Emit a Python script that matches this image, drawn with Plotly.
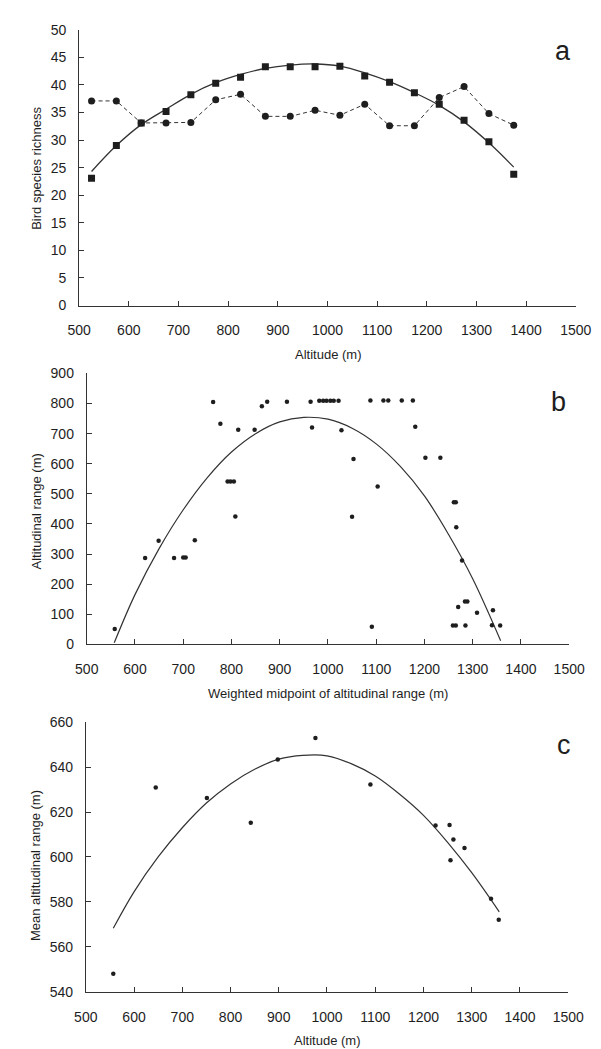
import plotly.graph_objects as go

W, H = 601, 1049

# ---- Panel a data ----
a_x = [525, 575, 625, 675, 725, 775, 825, 875, 925, 975, 1025, 1075, 1125, 1175, 1225, 1275, 1325, 1375]
a_sq = [23.1, 29.0, 33.1, 35.2, 38.2, 40.3, 41.4, 43.3, 43.3, 43.3, 43.4, 41.6, 40.5, 38.6, 36.5, 33.6, 29.7, 23.8]
a_ci = [37.1, 37.1, 33.1, 33.1, 33.2, 37.3, 38.3, 34.3, 34.3, 35.4, 34.5, 36.5, 32.6, 32.6, 37.7, 39.7, 34.8, 32.7]
a_fit_x = [525, 575, 625, 675, 725, 775, 825, 875, 925, 975, 1025, 1075, 1125, 1175, 1225, 1275, 1325, 1375]
a_fit_y = [24.3, 29.0, 32.8, 35.6, 38.3, 40.4, 41.9, 43.0, 43.6, 43.8, 43.4, 42.2, 40.6, 38.6, 36.3, 33.3, 29.5, 25.1]

# ---- Panel b data ----
b_x = [558, 621, 649, 681, 700, 705, 724, 762, 777, 792, 798, 805, 808, 814, 848, 863, 874, 915,
       964, 967, 982, 990, 997, 1005, 1012, 1022, 1028, 1050, 1053, 1088, 1091, 1103, 1115, 1125,
       1153, 1176, 1181, 1202, 1233, 1261, 1265, 1266, 1270, 1278, 1259, 1265, 1285, 1284, 1289,
       1309, 1342, 1340, 1357]
b_y = [51, 287, 344, 287, 288, 288, 346, 805, 733, 541, 541, 541, 425, 713, 713, 791, 806, 806,
       806, 720, 809, 809, 809, 809, 809, 809, 711, 424, 616, 810, 58, 524, 810, 810,
       810, 810, 723, 620, 620, 472, 472, 389, 124, 278, 62, 62, 62, 142, 142,
       105, 113, 63, 62]
b_fit_x = [557, 600, 650, 700, 750, 800, 850, 900, 950, 1000, 1050, 1100, 1150, 1200, 1250, 1300, 1358]
b_fit_y = [5, 165, 318, 447, 554, 639, 700, 739, 754, 748, 718, 666, 591, 493, 365, 218, 12]

# ---- Panel c data ----
c_x = [557, 645, 751, 842, 898, 976, 1090, 1225, 1254, 1262, 1256, 1285, 1340, 1356]
c_y = [548.1, 630.9, 626.2, 615.2, 643.3, 652.9, 632.2, 614.0, 614.2, 607.8, 598.5, 604.0, 581.4, 572.1]
c_fit_x = [557, 600, 650, 700, 750, 800, 850, 900, 950, 1000, 1050, 1100, 1150, 1200, 1250, 1300, 1357]
c_fit_y = [568.3, 584.5, 600, 613, 624, 632.5, 639, 643.5, 645.2, 645, 641.5, 636, 628, 618.5, 606.5, 593, 575.6]

x_ticks = [500, 600, 700, 800, 900, 1000, 1100, 1200, 1300, 1400, 1500]

INK = "#1e1e1e"
FONT = "Liberation Sans, Arial, sans-serif"

fig = go.Figure()

# panel a
fig.add_trace(go.Scatter(x=a_fit_x, y=a_fit_y, mode="lines", line=dict(color="#333", width=1.3, shape="spline"),
                         xaxis="x", yaxis="y", showlegend=False, hoverinfo="skip"))
fig.add_trace(go.Scatter(x=a_x, y=a_ci, mode="lines+markers",
                         line=dict(color="#333", width=1, dash="4px,3px"),
                         marker=dict(symbol="circle", size=7, color=INK),
                         xaxis="x", yaxis="y", showlegend=False))
fig.add_trace(go.Scatter(x=a_x, y=a_sq, mode="markers",
                         marker=dict(symbol="square", size=7, color=INK),
                         xaxis="x", yaxis="y", showlegend=False))
# panel b
fig.add_trace(go.Scatter(x=b_fit_x, y=b_fit_y, mode="lines", line=dict(color="#333", width=1.2, shape="spline"),
                         xaxis="x2", yaxis="y2", showlegend=False, hoverinfo="skip"))
fig.add_trace(go.Scatter(x=b_x, y=b_y, mode="markers", marker=dict(size=4.5, color=INK),
                         xaxis="x2", yaxis="y2", showlegend=False))
# panel c
fig.add_trace(go.Scatter(x=c_fit_x, y=c_fit_y, mode="lines", line=dict(color="#333", width=1.2, shape="spline"),
                         xaxis="x3", yaxis="y3", showlegend=False, hoverinfo="skip"))
fig.add_trace(go.Scatter(x=c_x, y=c_y, mode="markers", marker=dict(size=4.5, color=INK),
                         xaxis="x3", yaxis="y3", showlegend=False))


def px_x(p):
    return p / W


def px_y(p):
    return 1 - p / H


def xax(dom, anchor):
    return dict(domain=dom, anchor=anchor, range=[500, 1500], tickvals=x_ticks,
                showline=True, linecolor="#333", linewidth=1, showgrid=False, zeroline=False,
                ticks="inside", ticklen=5, tickcolor="#333", ticklabelstandoff=12,
                tickfont=dict(size=14, color=INK, family=FONT))


def yax(dom, anchor, rng, dtick):
    return dict(domain=dom, anchor=anchor, range=rng, dtick=dtick, tick0=rng[0],
                showline=True, linecolor="#333", linewidth=1, showgrid=False, zeroline=False,
                ticks="inside", ticklen=5, tickcolor="#333", ticklabelstandoff=9,
                tickfont=dict(size=14, color=INK, family=FONT))


fig.update_layout(
    width=W, height=H, margin=dict(l=0, r=0, t=0, b=0),
    paper_bgcolor="white", plot_bgcolor="white",
    xaxis=xax([px_x(62), px_x(583)], "y"),
    yaxis=yax([px_y(294), px_y(14)], "x", [0, 50], 5),
    xaxis2=xax([px_x(70), px_x(576)], "y2"),
    yaxis2=yax([px_y(638), px_y(363)], "x2", [0, 900], 100),
    xaxis3=xax([px_x(69), px_x(575)], "y3"),
    yaxis3=yax([px_y(991), px_y(717)], "x3", [540, 660], 20),
)

ann = []
def txt(x, y, s, size=13, angle=0):
    ann.append(dict(x=px_x(x), y=px_y(y), xref="paper", yref="paper", text=s, showarrow=False,
                    textangle=angle, xanchor="center", yanchor="middle",
                    font=dict(size=size, color=INK, family=FONT)))

txt(323, 344, "Altitude (m)")
txt(323, 688, "Weighted midpoint of altitudinal range (m)")
txt(322, 1040, "Altitude (m)")
txt(17, 155, "Bird species richness", angle=-90)
txt(17, 503, "Altitudinal range (m)", angle=-90)
txt(17, 863, "Mean altitudinal range (m)", angle=-90)
txt(570, 36, "a", size=27)
txt(565, 392, "b", size=27)
txt(571, 740, "c", size=27)
fig.update_layout(annotations=ann)

fig.write_html("out.html")
